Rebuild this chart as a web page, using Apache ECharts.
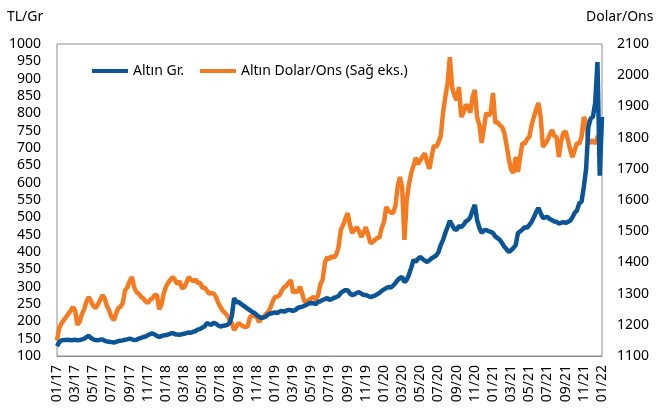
<!DOCTYPE html>
<html>
<head>
<meta charset="utf-8">
<script src="https://cdn.jsdelivr.net/npm/echarts/dist/echarts.min.js"></script>
<style>
  html, body { margin: 0; padding: 0; background: #fff; }
  #chart { width: 656px; height: 411px; }
</style>
</head>
<body>
<div id="chart"></div>
<script>
// month labels 01/17 .. 12/21 plus 01/22, four readings per month
const monthLabels = [];
for (let y = 17; y <= 21; y++) {
  for (let m = 1; m <= 12; m++) monthLabels.push(String(m).padStart(2, '0') + '/' + y);
}
const categories = [];
monthLabels.forEach(function (lbl) {
  for (let w = 0; w < 4; w++) categories.push(lbl + '#' + w);
});
categories.push('01/22#0');

// Altın Gr. (TL/Gr, left axis)
const altinGr = [
  128, 140, 145, 146,  146, 147, 145, 146,  147, 145, 146, 148,  150, 155, 158, 152,
  148, 146, 145, 147,  148, 144, 142, 141,  140, 139, 141, 143,  144, 145, 147, 148,
  150, 148, 146, 147,  150, 152, 155, 156,  160, 163, 165, 162,  158, 155, 157, 160,
  160, 162, 165, 166,  163, 162, 161, 163,  164, 166, 168, 167,  170, 172, 176, 178,
  182, 185, 195, 192,  190, 196, 193, 188,  185, 187, 188, 190,  195, 215, 267, 255,
  256, 250, 246, 241,  236, 232, 227, 224,  218, 213, 210, 211,  214, 220, 222, 224,
  226, 224, 228, 230,  228, 231, 233, 232,  230, 233, 238, 241,  242, 245, 248, 252,
  253, 252, 250, 256,  258, 262, 264, 267,  262, 264, 268, 270,  273, 282, 287, 290,
  290, 280, 276, 278,  282, 284, 280, 276,  276, 273, 270, 272,  274, 278, 282, 288,
  292, 296, 299, 297,  303, 310, 319, 325,  328, 313, 320, 335,  355, 377, 372, 380,
  386, 380, 375, 371,  376, 382, 386, 390,  400, 420, 435, 455,  472, 490, 478, 466,
  464, 475, 472, 478,  488, 492, 500, 520,  536, 492, 470, 455,  462, 464, 460, 458,
  455, 445, 440, 435,  426, 415, 408, 400,  405, 412, 420, 455,  460, 465, 472, 470,
  478, 487, 500, 515,  527, 512, 498, 500,  501, 495, 492, 488,  487, 482, 484, 486,
  484, 487, 490, 500,  513, 520, 541, 545,  588, 640, 760, 785,  790, 830, 948, 620,
  790
];

// Altın Dolar/Ons (right axis)
const altinOns = [
  1150, 1190, 1205, 1215,  1225, 1235, 1245, 1257,  1245, 1200, 1210, 1235,  1250, 1275, 1289, 1275,
  1260, 1254, 1265, 1280,  1295, 1285, 1260, 1245,  1225, 1215, 1235, 1254,  1258, 1270, 1311, 1320,
  1340, 1353, 1320, 1305,  1300, 1289, 1285, 1275,  1270, 1280, 1285, 1295,  1296, 1250, 1265, 1300,
  1322, 1335, 1345, 1353,  1343, 1330, 1340, 1318,  1320, 1335, 1353, 1345,  1340, 1345, 1334, 1335,
  1318, 1320, 1310, 1300,  1302, 1300, 1290, 1270,  1257, 1245, 1238, 1230,  1215, 1205, 1183, 1195,
  1206, 1200, 1195, 1193,  1195, 1225, 1230, 1228,  1225, 1209, 1220, 1225,  1235, 1240, 1255, 1275,
  1289, 1290, 1295, 1310,  1320, 1325, 1335, 1343,  1302, 1310, 1305, 1322,  1300, 1273, 1275, 1280,
  1285, 1289, 1280, 1295,  1330, 1345, 1400, 1417,  1410, 1420, 1415, 1425,  1450, 1505, 1520, 1540,
  1558, 1520, 1494, 1505,  1513, 1500, 1482, 1495,  1513, 1490, 1462, 1465,  1472, 1478, 1480, 1510,
  1530, 1578, 1565, 1560,  1558, 1580, 1642, 1674,  1640, 1472, 1600, 1650,  1687, 1710, 1735, 1715,
  1728, 1740, 1750, 1720,  1700, 1740, 1775, 1770,  1785, 1805, 1880, 1930,  1975, 2058, 1960, 1935,
  1920, 1962, 1866, 1880,  1905, 1900, 1880, 1930,  1953, 1866, 1840, 1783,  1830, 1879, 1870, 1880,
  1943, 1847, 1850, 1840,  1834, 1815, 1775, 1730,  1697, 1687, 1738, 1690,  1740, 1783, 1780, 1795,
  1802, 1840, 1866, 1890,  1911, 1866, 1770, 1780,  1792, 1810, 1824, 1805,  1802, 1738, 1790, 1815,
  1820, 1792, 1760, 1738,  1760, 1783, 1780, 1802,  1866, 1850, 1783, 1785,  1792, 1780, 1802, 1815,
  1815
];

const font = 'Noto Sans';
const blue = '#0B5597';
const orange = '#F47B20';

const option = {
  animation: false,
  textStyle: { fontFamily: font },
  grid: {
    left: 57, right: 54, top: 44, bottom: 55,
    show: true, borderColor: '#8c8c8c', borderWidth: 1
  },
  legend: {
    data: ['Altın Gr.', 'Altın Dolar/Ons (Sağ eks.)'],
    left: 87, top: 59,
    icon: 'rect', itemWidth: 36, itemHeight: 4, itemGap: 16,
    textStyle: { fontSize: 14, color: '#000', fontFamily: font }
  },
  graphic: [
    { type: 'text', left: 7, top: 10, style: { text: 'TL/Gr', font: '14px "Noto Sans"', fill: '#000' } },
    { type: 'text', left: 586, top: 10, style: { text: 'Dolar/Ons', font: '14px "Noto Sans"', fill: '#000' } }
  ],
  xAxis: {
    type: 'category',
    data: categories,
    boundaryGap: false,
    axisTick: { show: false },
    axisLine: { lineStyle: { color: '#8c8c8c' } },
    axisLabel: {
      interval: 7, rotate: 90, margin: 9, fontSize: 14, color: '#000',
      formatter: function (v) { return v.split('#')[0]; }
    }
  },
  yAxis: [
    {
      type: 'value', min: 100, max: 1000, interval: 50,
      splitLine: { show: false }, axisLine: { show: false }, axisTick: { show: false },
      axisLabel: { fontSize: 14, color: '#000', margin: 16, formatter: function (v) { return String(v); } }
    },
    {
      type: 'value', min: 1100, max: 2100, interval: 100, position: 'right',
      splitLine: { show: false }, axisLine: { show: false }, axisTick: { show: false },
      axisLabel: { fontSize: 14, color: '#000', margin: 15, formatter: function (v) { return String(v); } }
    }
  ],
  series: [
    {
      name: 'Altın Dolar/Ons (Sağ eks.)', type: 'line', yAxisIndex: 1,
      data: altinOns, symbol: 'none', color: orange,
      lineStyle: { width: 4.5, color: orange }
    },
    {
      name: 'Altın Gr.', type: 'line', yAxisIndex: 0,
      data: altinGr, symbol: 'none', color: blue,
      lineStyle: { width: 4.5, color: blue }
    }
  ]
};

const myChart = echarts.init(document.getElementById('chart'));
myChart.setOption(option);
</script>
</body>
</html>
